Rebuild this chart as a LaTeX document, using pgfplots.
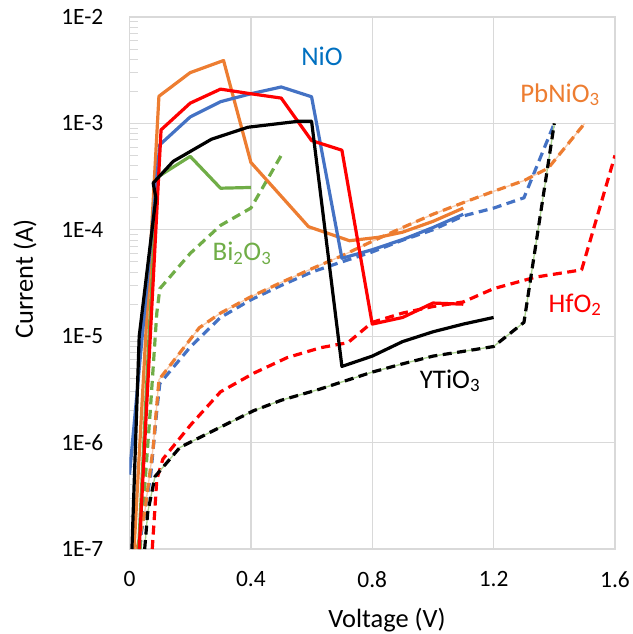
\documentclass[border=0pt]{standalone}
\usepackage{fontspec}
\setmainfont{Carlito}
\usepackage{pgfplots}
\pgfplotsset{compat=1.18}
\definecolor{xblue}{HTML}{4472C4}
\definecolor{xorange}{HTML}{ED7D31}
\definecolor{xgreen}{HTML}{70AD47}
\definecolor{xred}{HTML}{FF0000}
\definecolor{nioblue}{HTML}{0070C0}
\definecolor{gridgray}{HTML}{D9D9D9}
\definecolor{lgreen}{HTML}{A9D18E}
\definecolor{lorange}{HTML}{F8CBAD}
\begin{document}
\begin{tikzpicture}
\begin{axis}[
  scale only axis, width=485.5bp, height=532bp,
  xmin=0, xmax=1.6, ymin=1e-7, ymax=1e-2, ymode=log,
  clip mode=individual,
  xtick={0,0.4,0.8,1.2,1.6}, xticklabels={0,0.4,0.8,1.2,1.6},
  ytick={1e-7,1e-6,1e-5,1e-4,1e-3,1e-2},
  yticklabels={1E-7,1E-6,1E-5,1E-4,1E-3,1E-2},
  minor ytick={2e-7,3e-7,4e-7,5e-7,6e-7,7e-7,8e-7,9e-7,
               2e-6,3e-6,4e-6,5e-6,6e-6,7e-6,8e-6,9e-6,
               2e-5,3e-5,4e-5,5e-5,6e-5,7e-5,8e-5,9e-5,
               2e-4,3e-4,4e-4,5e-4,6e-4,7e-4,8e-4,9e-4,
               2e-3,3e-3,4e-3,5e-3,6e-3,7e-3,8e-3,9e-3},
  ytick pos=left, xtick pos=bottom, tick align=inside,
  major tick length=0pt, minor tick length=8bp,
  minor tick style={draw=gridgray, line width=1bp},
  grid=major, major grid style={draw=gridgray, line width=1.3bp},
  axis line style={draw=gridgray, line width=1.3bp},
  /pgf/number format/assume math mode=true,
  xticklabel style={font=\fontsize{23.5}{27}\selectfont, anchor=north, inner sep=0pt, yshift=-22bp},
  yticklabel style={font=\fontsize{23.5}{27}\selectfont, anchor=east, inner sep=0pt, xshift=-26bp},
  every axis plot/.append style={line width=3.2bp, line join=round, mark=none},
  dsh/.style={dash pattern=on 9bp off 5.5bp},
]
\coordinate (O) at (rel axis cs:0,0);
% ---------- dashed curves ----------
\addplot[xgreen, dsh] coordinates {(0.035,1e-7)(0.068,1.9e-6)(0.09,1.65e-5)(0.1,2.8e-5)(0.2,6e-5)(0.3,1.1e-4)(0.4,1.6e-4)(0.5,5e-4)};
\addplot[xblue, dsh] coordinates {(0.03,1e-7)(0.07,5e-7)(0.09,2e-6)(0.1,3.6e-6)(0.2,7.9e-6)(0.3,1.5e-5)(0.4,2.2e-5)(0.5,3e-5)(0.6,4e-5)(0.7,5e-5)(0.8,6.2e-5)(0.9,8e-5)(1.0,1.0e-4)(1.1,1.35e-4)(1.2,1.6e-4)(1.3,2.0e-4)(1.4,1e-3)};
\addplot[lorange, line width=1.3bp] coordinates {(0.025,1e-7)(0.05,2.2e-7)(0.078,9e-7)(0.097,3.9e-6)(0.23,1.2e-5)(0.3,1.65e-5)(0.4,2.35e-5)(0.5,3.2e-5)(0.6,4.3e-5)(0.7,5.7e-5)(0.8,7.8e-5)(0.9,1.05e-4)(1.0,1.4e-4)(1.1,1.8e-4)(1.2,2.3e-4)(1.3,2.9e-4)(1.38,3.8e-4)(1.5,1e-3)};
\addplot[xorange, dsh] coordinates {(0.025,1e-7)(0.05,2.2e-7)(0.078,9e-7)(0.097,3.9e-6)(0.23,1.2e-5)(0.3,1.65e-5)(0.4,2.35e-5)(0.5,3.2e-5)(0.6,4.3e-5)(0.7,5.7e-5)(0.8,7.8e-5)(0.9,1.05e-4)(1.0,1.4e-4)(1.1,1.8e-4)(1.2,2.3e-4)(1.3,2.9e-4)(1.38,3.8e-4)(1.5,1e-3)};
\addplot[xred, dsh] coordinates {(0.075,1e-7)(0.09,4.5e-7)(0.11,7e-7)(0.2,1.45e-6)(0.3,3e-6)(0.41,4.5e-6)(0.52,6.3e-6)(0.63,7.8e-6)(0.72,8.7e-6)(0.8,1.35e-5)(0.9,1.65e-5)(1.0,1.9e-5)(1.1,2.1e-5)(1.2,2.8e-5)(1.34,3.6e-5)(1.49,4.2e-5)(1.6,5e-4)};
\addplot[lgreen, line width=1.3bp] coordinates {(0.05,1e-7)(0.06,2.2e-7)(0.084,4.8e-7)(0.166,9e-7)(0.3,1.4e-6)(0.41,2e-6)(0.5,2.5e-6)(0.63,3.2e-6)(0.8,4.6e-6)(0.9,5.5e-6)(1.0,6.5e-6)(1.1,7.2e-6)(1.2,8e-6)(1.3,1.35e-5)(1.4,1e-3)};
\addplot[black, dsh] coordinates {(0.05,1e-7)(0.06,2.2e-7)(0.084,4.8e-7)(0.166,9e-7)(0.3,1.4e-6)(0.41,2e-6)(0.5,2.5e-6)(0.63,3.2e-6)(0.8,4.6e-6)(0.9,5.5e-6)(1.0,6.5e-6)(1.1,7.2e-6)(1.2,8e-6)(1.3,1.35e-5)(1.4,1e-3)};
% ---------- solid curves ----------
\addplot[xgreen] coordinates {(0.03,1e-7)(0.09,3.1e-4)(0.2,4.9e-4)(0.3,2.46e-4)(0.4,2.5e-4)};
\addplot[xorange] coordinates {(0.015,1e-7)(0.097,1.8e-3)(0.2,3.0e-3)(0.31,3.9e-3)(0.40,4.3e-4)(0.59,1.07e-4)(0.725,7.9e-5)(0.82,8.5e-5)(0.9,9.5e-5)(1.0,1.2e-4)(1.1,1.6e-4)};
\addplot[xblue] coordinates {(0,5e-7)(0.10,6.3e-4)(0.2,1.15e-3)(0.3,1.6e-3)(0.4,1.9e-3)(0.5,2.2e-3)(0.6,1.78e-3)(0.7,5.4e-5)(0.8,6.5e-5)(0.9,8.1e-5)(1.0,1.05e-4)(1.1,1.4e-4)};
\addplot[xred] coordinates {(0.032,1e-7)(0.104,8.7e-4)(0.2,1.55e-3)(0.3,2.1e-3)(0.4,1.9e-3)(0.5,1.73e-3)(0.6,6.9e-4)(0.7,5.6e-4)(0.8,1.3e-5)(0.9,1.5e-5)(1.0,2.05e-5)(1.1,2.0e-5)};
\addplot[black] coordinates {(0.008,1e-7)(0.032,1e-5)(0.087,2e-4)(0.078,2.75e-4)(0.144,4.4e-4)(0.27,7.1e-4)(0.39,9.2e-4)(0.56,1.05e-3)(0.60,1.05e-3)(0.70,5.2e-6)(0.8,6.5e-6)(0.9,8.9e-6)(1.0,1.1e-5)(1.1,1.3e-5)(1.2,1.5e-5)};
% ---------- labels ----------
\node[anchor=base, text=nioblue, font=\fontsize{27}{32}\selectfont] at (rel axis cs:0.3965,0.908) {NiO};
\node[anchor=base, text=xorange, font=\fontsize{27}{32}\selectfont] at (rel axis cs:0.8867,0.840) {PbNiO\textsubscript{3}};
\node[anchor=base, text=xgreen, font=\fontsize{27}{32}\selectfont] at (rel axis cs:0.2317,0.5414) {Bi\textsubscript{2}O\textsubscript{3}};
\node[anchor=base, text=xred, font=\fontsize{27}{32}\selectfont] at (rel axis cs:0.9176,0.4455) {HfO\textsubscript{2}};
\node[anchor=base, text=black, font=\fontsize{27}{32}\selectfont] at (rel axis cs:0.660,0.3026) {YTiO\textsubscript{3}};
\node[anchor=base, font=\fontsize{26.5}{31}\selectfont] at (rel axis cs:0.5304,-0.1466) {Voltage (V)};
\node[anchor=base, rotate=90, font=\fontsize{26.5}{31}\selectfont] at (rel axis cs:-0.1988,0.5075) {Current (A)};
\end{axis}
\pgfresetboundingbox
\path[use as bounding box] (O) ++(-129.5bp,-85bp) rectangle ++(633bp,634bp);
\end{tikzpicture}
\end{document}
